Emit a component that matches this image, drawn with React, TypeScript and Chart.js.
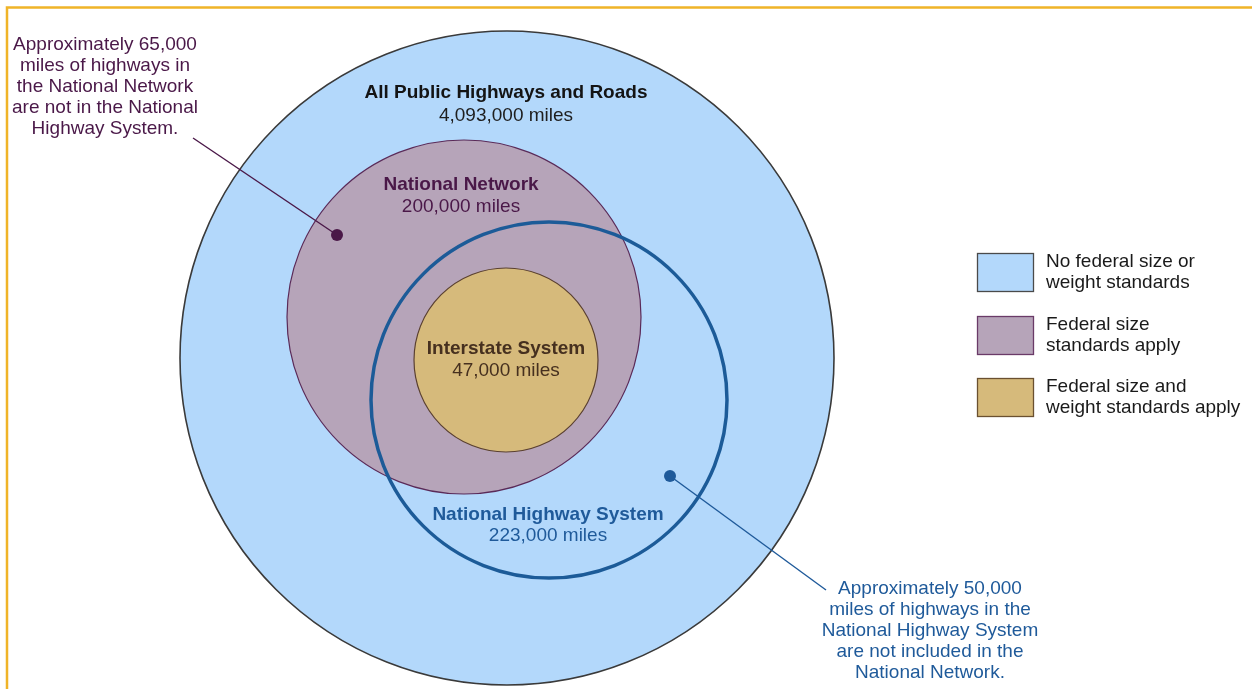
import React, { useEffect, useRef } from "react";
import { Chart, registerables } from "chart.js";

Chart.register(...registerables);

const W = 1252;
const H = 689;

// Circles (Venn-style sets)
const circleNames = [
  "All Public Highways and Roads",
  "National Network",
  "Interstate System",
  "National Highway System",
];
const circleMiles = ["4,093,000 miles", "200,000 miles", "47,000 miles", "223,000 miles"];

// geometry in diagram units (x right, y down)
const circleCx = [507, 464, 506, 549];
const circleCy = [358, 317, 360, 400];
const circleRadius = [327, 177, 92, 178];

// label anchor positions (name line, miles line)
const labelCx = [506, 461, 506, 548];
const nameCy = [93, 185, 349, 515];
const milesCy = [116, 207, 371, 536];

const fillColors = ["#b3d8fb", "#b6a4b9", "#d6ba7b", "rgba(0,0,0,0)"];
const strokeColors = ["#3a3a3a", "#5a2a58", "#5a4030", "#1c5b98"];
const strokeWidths = [1.6, 1.2, 1.2, 3.5];
const nameColors = ["#141414", "#4a1848", "#46301f", "#1f5a9a"];
const milesColors = ["#1e1e1e", "#4a1848", "#46301f", "#1f5a9a"];

// Callouts
const leftNote = [
  "Approximately 65,000",
  "miles of highways in",
  "the National Network",
  "are not in the National",
  "Highway System.",
];
const rightNote = [
  "Approximately 50,000",
  "miles of highways in the",
  "National Highway System",
  "are not included in the",
  "National Network.",
];
const leftNoteX = 105;
const leftNoteY = [45, 66, 87, 108, 129];
const rightNoteX = 930;
const rightNoteY = [589, 610, 631, 652, 673];
const leftLeader = [[193, 138], [337, 235]];
const rightLeader = [[826, 590], [670, 476]];

// Legend
const legendLabels = [
  ["No federal size or", "weight standards"],
  ["Federal size", "standards apply"],
  ["Federal size and", "weight standards apply"],
];
const legendFill = ["#b3d8fb", "#b6a4b9", "#d6ba7b"];
const legendStroke = ["#4a4a4a", "#6a3a68", "#6a5030"];
const legendBoxTop = [253, 316, 378];

const FONT = "'Liberation Sans', Arial, Helvetica, sans-serif";
const FS = 19;

const diagramPlugin = {
  id: "diagram",
  beforeDatasetsDraw(chart: any) {
    const ctx = chart.ctx;
    const xs = chart.scales.x;
    const ys = chart.scales.y;
    ctx.save();
    ctx.strokeStyle = "#f0b428";
    ctx.lineWidth = 2.5;
    ctx.beginPath();
    ctx.moveTo(xs.getPixelForValue(7), ys.getPixelForValue(H + 5));
    ctx.lineTo(xs.getPixelForValue(7), ys.getPixelForValue(7.5));
    ctx.lineTo(xs.getPixelForValue(W + 5), ys.getPixelForValue(7.5));
    ctx.stroke();
    ctx.restore();
  },
  afterDatasetsDraw(chart: any) {
    const ctx = chart.ctx;
    const xs = chart.scales.x;
    const ys = chart.scales.y;
    const px = (v: number) => xs.getPixelForValue(v);
    const py = (v: number) => ys.getPixelForValue(v);
    ctx.save();

    // leader lines
    const drawLeader = (pts: number[][], color: string) => {
      ctx.strokeStyle = color;
      ctx.lineWidth = 1.4;
      ctx.beginPath();
      ctx.moveTo(px(pts[0][0]), py(pts[0][1]));
      ctx.lineTo(px(pts[1][0]), py(pts[1][1]));
      ctx.stroke();
      ctx.fillStyle = color;
      ctx.beginPath();
      ctx.arc(px(pts[1][0]), py(pts[1][1]), 6, 0, Math.PI * 2);
      ctx.fill();
    };
    drawLeader(leftLeader, "#4a1848");
    drawLeader(rightLeader, "#1f5a9a");

    ctx.textAlign = "center";
    ctx.textBaseline = "middle";
    // circle labels
    for (let i = 0; i < circleNames.length; i++) {
      ctx.font = `bold ${FS}px ${FONT}`;
      ctx.fillStyle = nameColors[i];
      ctx.fillText(circleNames[i], px(labelCx[i]), py(nameCy[i]));
      ctx.font = `${FS}px ${FONT}`;
      ctx.fillStyle = milesColors[i];
      ctx.fillText(circleMiles[i], px(labelCx[i]), py(milesCy[i]));
    }

    // notes
    ctx.font = `${FS}px ${FONT}`;
    ctx.fillStyle = "#4a1848";
    leftNote.forEach((t, i) => ctx.fillText(t, px(leftNoteX), py(leftNoteY[i])));
    ctx.fillStyle = "#1f5a9a";
    rightNote.forEach((t, i) => ctx.fillText(t, px(rightNoteX), py(rightNoteY[i])));

    // legend
    ctx.textAlign = "left";
    legendLabels.forEach((lines, i) => {
      const top = legendBoxTop[i];
      const x0 = px(977.5);
      const y0 = py(top + 0.5);
      const w = px(1033.5) - x0;
      const h = py(top + 38.5) - y0;
      ctx.fillStyle = legendFill[i];
      ctx.fillRect(x0, y0, w, h);
      ctx.strokeStyle = legendStroke[i];
      ctx.lineWidth = 1.3;
      ctx.strokeRect(x0, y0, w, h);
      ctx.fillStyle = "#1a1a1a";
      ctx.font = `${FS}px ${FONT}`;
      lines.forEach((t, j) => ctx.fillText(t, px(1046), py(top + 9 + j * 21)));
    });

    ctx.restore();
  },
};

export default function App() {
  const ref = useRef<HTMLCanvasElement | null>(null);
  useEffect(() => {
    if (!ref.current) return;
    const order = [4, 3, 2, 1];
    const chart = new Chart(ref.current, {
      type: "bubble",
      data: {
        datasets: circleNames.map((name, i) => ({
          label: name,
          data: [{ x: circleCx[i], y: circleCy[i], r: circleRadius[i] }],
          backgroundColor: fillColors[i],
          borderColor: strokeColors[i],
          borderWidth: strokeWidths[i],
          order: order[i],
          clip: false as any,
        })),
      },
      options: {
        responsive: false,
        animation: false,
        events: [],
        layout: { padding: 0, autoPadding: false },
        plugins: { legend: { display: false }, tooltip: { enabled: false } },
        scales: {
          x: { type: "linear", min: 0, max: W, display: false },
          y: { type: "linear", min: 0, max: H, reverse: true, display: false },
        },
      },
      plugins: [diagramPlugin],
    });
    return () => chart.destroy();
  }, []);
  return (
    <div style={{ position: "absolute", left: 0, top: 0, width: W, height: H, background: "#fff" }}>
      <canvas ref={ref} width={W} height={H} style={{ display: "block" }} />
    </div>
  );
}
